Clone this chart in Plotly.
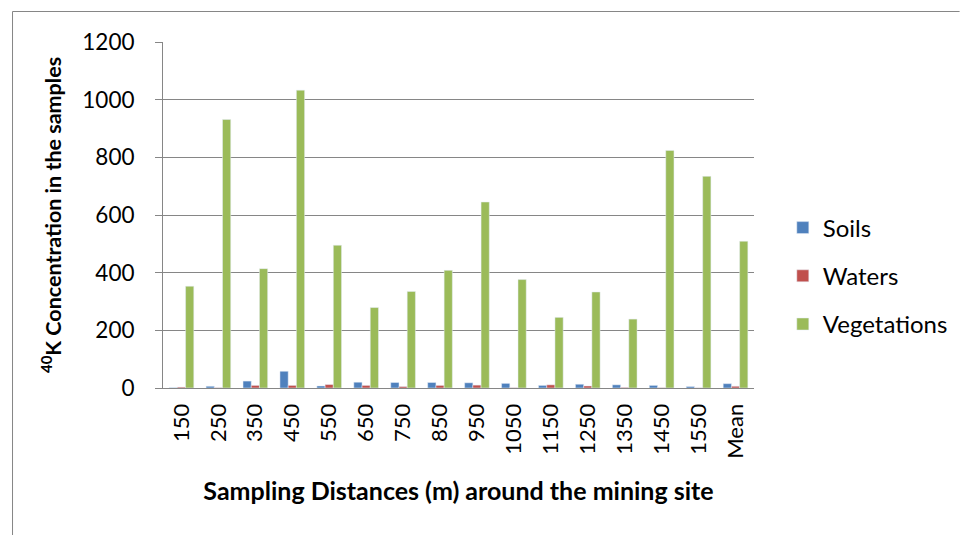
import plotly.graph_objects as go

categories = ["150", "250", "350", "450", "550", "650", "750", "850", "950",
              "1050", "1150", "1250", "1350", "1450", "1550", "Mean"]
soils = [1, 6, 24, 58, 7, 20, 19, 19, 18, 16, 9, 13, 11, 9, 5, 15]
waters = [3, 1, 9, 9, 12, 9, 5, 9, 10, 1, 11, 7, 2, 1, 0.5, 6]
vegetations = [353, 931, 414, 1033, 495, 279, 335, 408, 645, 376, 245, 333, 239, 824, 734, 509]

FONT = "Lato"
GRAY = "#868686"

fig = go.Figure()
fig.add_trace(go.Bar(name="Soils", x=categories, y=soils, marker_color="#4F81BD", legendgroup="a"))
fig.add_trace(go.Bar(name="Waters", x=categories, y=waters, marker_color="#C0504D", legendgroup="b"))
fig.add_trace(go.Bar(name="Vegetations", x=categories, y=vegetations, marker_color="#9BBB59", legendgroup="c"))

L, R, T, B = 163, 758, 42, 388
W, H = 965, 535

def px_x(p):
    return (p - L) / (R - L)

def px_y(p):
    return (B - p) / (B - T)

fig.update_layout(
    width=W, height=H,
    margin=dict(l=L, r=W - R, t=T, b=H - B),
    paper_bgcolor="white", plot_bgcolor="white",
    barmode="group", bargap=0.333, bargroupgap=0,
    font=dict(family=FONT, size=21, color="black"),
    showlegend=True,
    legend=dict(x=px_x(787), xanchor="left", y=px_y(276), yanchor="middle",
                traceorder="grouped", tracegroupgap=14,
                font=dict(family=FONT, size=24, color="black"),
                itemwidth=30, bgcolor="rgba(0,0,0,0)"),
    xaxis=dict(
        type="category", tickangle=-90, showline=True, linecolor=GRAY, linewidth=1,
        ticks="", ticklabelstandoff=6, tickfont=dict(family=FONT, size=22, color="black"),
        title=dict(text="<b>Sampling Distances (m) around the mining site</b>",
                   font=dict(family=FONT, size=25, color="black"), standoff=24),
        showgrid=False,
    ),
    yaxis=dict(
        range=[0, 1200], dtick=200, showline=True, linecolor=GRAY, linewidth=1,
        ticks="outside", ticklen=7, tickcolor=GRAY, ticklabelstandoff=16,
        showgrid=True, gridcolor=GRAY, gridwidth=1,
        tickfont=dict(family=FONT, size=22.5, color="black"),
        title=dict(text="<b><sup>40</sup>K Concentration in the samples</b>",
                   font=dict(family=FONT, size=21.5, color="black"), standoff=14),
        zeroline=False,
    ),
    shapes=[
        dict(type="line", xref="paper", yref="paper", x0=px_x(11.5), x1=px_x(965),
             y0=px_y(11.5), y1=px_y(11.5), line=dict(color=GRAY, width=1)),
        dict(type="line", xref="paper", yref="paper", x0=px_x(11.5), x1=px_x(11.5),
             y0=px_y(11.5), y1=px_y(540), line=dict(color=GRAY, width=1)),
    ],
)

fig.write_html("out.html", config={"displayModeBar": False},
               post_script="document.body.style.margin='0';document.body.style.overflow='hidden';")
